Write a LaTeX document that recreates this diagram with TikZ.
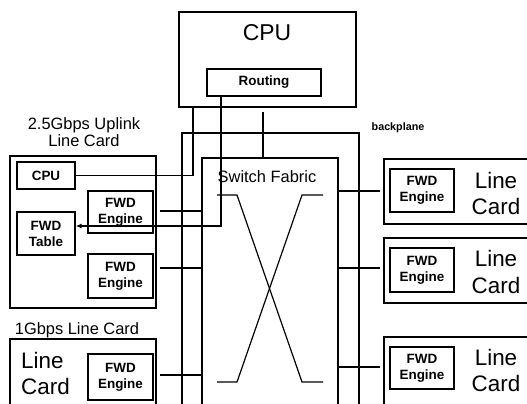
\documentclass[tikz,border=0pt]{standalone}
\usepackage{fontspec}
\setmainfont{Liberation Sans}
\usetikzlibrary{arrows.meta}
\newcommand{\myfs}[2]{\fontsize{#1}{#2}\selectfont}
\begin{document}
\begin{tikzpicture}[x=1bp,y=-1bp,
  box/.style={draw,line width=1.3bp,inner sep=0pt,align=center},
  conn/.style={line width=1.2bp},
  bpl/.style={line width=2.6bp},
  small/.style={font=\myfs{13.5}{16}\bfseries},
  big/.style={font=\myfs{22.5}{27}},
  title/.style={font=\myfs{16.5}{17},align=center}]
\useasboundingbox (0,0) rectangle (527,403);
\clip (0,0) rectangle (527,403);
% backplane
\draw[bpl] (182,420) -- (182,133) -- (359,133) -- (359,420);
\node[font=\myfs{10.8}{12}\bfseries] (bptext) at (398,128) {backplane};
% central CPU
\node[box,minimum width=177bp,minimum height=95bp] (cpu) at (267.5,59.5) {};
\node[font=\myfs{23}{24}] (cpulbl) at (267,33) {CPU};
\node[box,small,minimum width=114bp,minimum height=27bp] (routing) at (264,82.5) {Routing};
% switch fabric
\node[box,fill=white,minimum width=136bp,minimum height=260bp] (sf) at (270,288) {};
\node[title] (sflbl) at (267,177) {Switch Fabric};
\draw[conn] (217,195) -- (237,195) -- (302,382) -- (323,382);
\draw[conn] (217,382) -- (237,382) -- (302,195) -- (323,195);
% uplink card
\node[title] (uptitle) at (84,132) {2.5Gbps Uplink\\Line Card};
\node[box,minimum width=146bp,minimum height=152bp] (up) at (83,232) {};
\node[box,small,minimum width=58bp,minimum height=27bp] (lcpu) at (46,175.5) {CPU};
\node[box,small,minimum width=65bp,minimum height=42bp] (e1) at (120.5,212) {FWD\\Engine};
\node[box,small,minimum width=58bp,minimum height=43bp] (tbl) at (46,233.5) {FWD\\Table};
\node[box,small,minimum width=65bp,minimum height=44bp] (e2) at (120.5,276) {FWD\\Engine};
% 1G card
\node[title] (gtitle) at (77,330) {1Gbps Line Card};
\node[box,minimum width=146bp,minimum height=81bp] (gcard) at (83,379.5) {};
\node[big,anchor=west,align=left,inner sep=0pt] (glbl) at (21,373.5) {Line\\Card};
\node[box,small,minimum width=65bp,minimum height=46bp] (e3) at (120.5,377) {FWD\\Engine};
% right cards
\node[box,minimum width=156bp,minimum height=65bp] (rc1) at (462,191.5) {};
\node[box,minimum width=156bp,minimum height=65bp] (rc2) at (462,270.5) {};
\node[box,minimum width=156bp,minimum height=83bp] (rc3) at (462,378.5) {};
\node[box,small,minimum width=64bp,minimum height=43bp] (r1) at (422,190.5) {FWD\\Engine};
\node[box,small,minimum width=64bp,minimum height=44bp] (r2) at (422,270) {FWD\\Engine};
\node[box,small,minimum width=64bp,minimum height=42bp] (r3) at (422,368) {FWD\\Engine};
\node[big,align=center,inner sep=0pt] (rl1) at (496,193.5) {Line\\Card};
\node[big,align=center,inner sep=0pt] (rl2) at (496,272) {Line\\Card};
\node[big,align=center,inner sep=0pt] (rl3) at (496,370.5) {Line\\Card};
% connector ends
\coordinate (l1) at (160,211);
\coordinate (l2) at (160,268);
\coordinate (l3) at (160,375);
\coordinate (q1) at (380,191);
\coordinate (q2) at (380,268);
\coordinate (q3) at (380,367);
\draw[conn] (l1) -- (sf.west |- l1);
\draw[conn] (l2) -- (sf.west |- l2);
\draw[conn] (l3) -- (sf.west |- l3);
\draw[conn] (sf.east |- q1) -- (q1);
\draw[conn] (sf.east |- q2) -- (q2);
\draw[conn] (sf.east |- q3) -- (q3);
% CPU links
\coordinate (xa) at (193,0);
\coordinate (xb) at (221,0);
\coordinate (ya) at (0,226);
\coordinate (top3) at (263,112);
\draw[conn] (lcpu.east) -| (xa |- cpu.south);
\draw[conn,-{Latex[length=6bp,width=5bp]}] (xb |- routing.south) |- (tbl.east |- ya);
\draw[conn] (top3) -- (sf.north -| top3);
\end{tikzpicture}
\end{document}
